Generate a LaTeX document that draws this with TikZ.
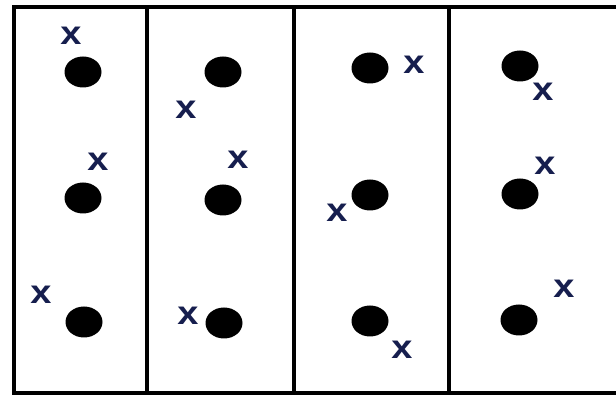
\documentclass[tikz,border=0pt]{standalone}
\usepackage{fontspec}
\setmainfont{Liberation Sans}
\usetikzlibrary{shapes.geometric}
\definecolor{xnavy}{RGB}{22,30,78}
\tikzset{
  frameline/.style={line width=3.5pt, draw=black},
  dot/.style={ellipse, fill=black, minimum width=37pt, minimum height=31pt, inner sep=0pt},
  xmark/.style={text=xnavy, inner sep=0pt, font=\fontsize{33}{33}\bfseries\selectfont, xscale=1.15, transform shape, anchor=center}
}
\begin{document}
\begin{tikzpicture}[x=1pt,y=-1pt]
\useasboundingbox (0,0) rectangle (616,395);
\fill[white] (0,0) rectangle (616,395);
% frame
\draw[frameline] (14,7) rectangle (622,393);
\draw[frameline] (147,7) -- (147,393);
\draw[frameline] (294,7) -- (294,393);
\draw[frameline] (449,7) -- (449,393);
% column 1
\node[dot] (d11) at (83,72) {};
\node[dot] (d12) at (83,198) {};
\node[dot] (d13) at (84,322) {};
\node[xmark] (x11) at (71,36) {x};
\node[xmark] (x12) at (98,162) {x};
\node[xmark] (x13) at (41,295) {x};
% column 2
\node[dot] (d21) at (223,72) {};
\node[dot] (d22) at (223,200) {};
\node[dot] (d23) at (224,323) {};
\node[xmark] (x21) at (186,110) {x};
\node[xmark] (x22) at (238,160) {x};
\node[xmark] (x23) at (188,316) {x};
% column 3
\node[dot] (d31) at (370,68) {};
\node[dot] (d32) at (370,195) {};
\node[dot] (d33) at (370,321) {};
\node[xmark] (x31) at (414,65) {x};
\node[xmark] (x32) at (337,213) {x};
\node[xmark] (x33) at (402,350) {x};
% column 4
\node[dot] (d41) at (520,66) {};
\node[dot] (d42) at (520,194) {};
\node[dot] (d43) at (519,320) {};
\node[xmark] (x41) at (543,92) {x};
\node[xmark] (x42) at (545,166) {x};
\node[xmark] (x43) at (564,289) {x};
\end{tikzpicture}
\end{document}
